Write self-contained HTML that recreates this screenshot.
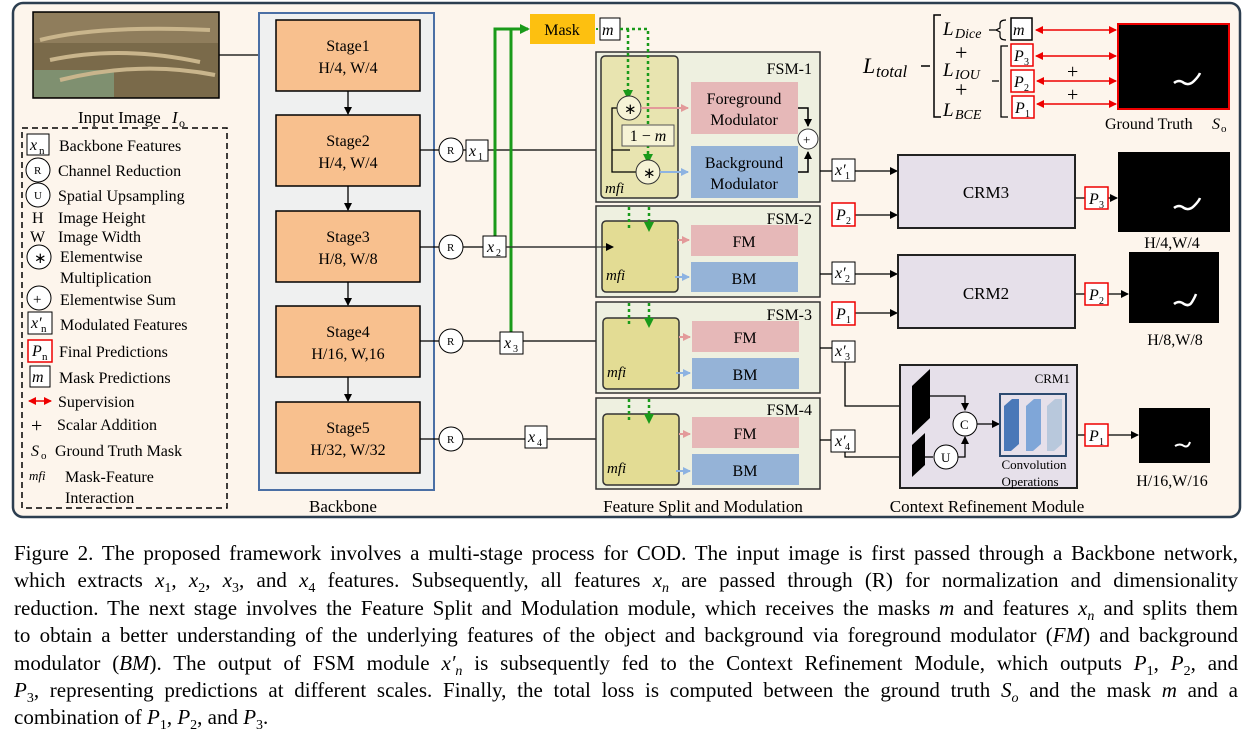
<!DOCTYPE html>
<html><head><meta charset="utf-8"><style>
html,body{margin:0;padding:0;background:#fff;width:1248px;height:741px;overflow:hidden}
svg{position:absolute;left:0;top:0}
.cap{position:absolute;left:14px;top:540px;width:1224px;font-family:"Liberation Serif",serif;font-size:21px;line-height:27.4px;color:#000}
.cap div{text-align:justify;text-align-last:justify;white-space:normal;height:27.4px;overflow:visible}
.cap div.l{text-align-last:left}
sub{font-size:14px;line-height:0}
text{font-family:"Liberation Serif",serif}
.i{font-style:italic}
</style></head><body>
<svg width="1248" height="530" viewBox="0 0 1248 530">
<defs>
<marker id="a" markerWidth="8" markerHeight="8" refX="7" refY="4" orient="auto" markerUnits="userSpaceOnUse"><path d="M0,0 L8,4 L0,8 z" fill="#000"/></marker>
<marker id="g" markerWidth="10" markerHeight="10" refX="8" refY="5" orient="auto" markerUnits="userSpaceOnUse"><path d="M0,0 L10,5 L0,10 z" fill="#1a9a1a"/></marker>
<marker id="r" markerWidth="8" markerHeight="8" refX="7" refY="4" orient="auto-start-reverse" markerUnits="userSpaceOnUse"><path d="M0,0 L8,4 L0,8 z" fill="#e00"/></marker>
<marker id="pk" markerWidth="8" markerHeight="8" refX="7" refY="4" orient="auto" markerUnits="userSpaceOnUse"><path d="M0,0 L8,4 L0,8 z" fill="#e39a9a"/></marker>
<marker id="bl" markerWidth="8" markerHeight="8" refX="7" refY="4" orient="auto" markerUnits="userSpaceOnUse"><path d="M0,0 L8,4 L0,8 z" fill="#8db3e2"/></marker>
</defs>
<rect x="13" y="3" width="1227" height="514" rx="10" fill="#fdf5ec" stroke="#2c3e50" stroke-width="2.5"/>
<rect x="33" y="12" width="186" height="86" fill="#7a6a4a" stroke="#000" stroke-width="1.5"/>
<rect x="34" y="13" width="184" height="30" fill="#8f7d5c"/>
<rect x="34" y="70" width="80" height="27" fill="#7f9070"/>
<path d="M40,40 Q100,25 210,30 M50,60 Q120,45 200,62 M60,80 Q140,60 215,75" stroke="#c9b58c" stroke-width="4" fill="none"/>
<line x1="219" y1="55" x2="276" y2="55" stroke="#000" stroke-width="1.2" marker-end="url(#a)"/>
<text x="78" y="123" font-size="17">Input Image</text><text x="172" y="123" font-size="17" class="i">I</text><text x="179" y="127" font-size="12">o</text>
<rect x="22" y="128" width="205" height="380" fill="none" stroke="#000" stroke-width="1.5" stroke-dasharray="6,4"/>
<g font-size="16">
<rect x="27" y="134" width="22" height="21" fill="#fff" stroke="#000"/><text x="30" y="150" class="i">x</text><text x="39" y="154" font-size="11">n</text><text x="59" y="151">Backbone Features</text>
<circle cx="38" cy="170" r="12" fill="#fff" stroke="#000"/><text x="34" y="174" font-size="11">R</text><text x="58" y="176">Channel Reduction</text>
<circle cx="38" cy="195" r="12" fill="#fff" stroke="#000"/><text x="34" y="199" font-size="11">U</text><text x="58" y="201">Spatial Upsampling</text>
<text x="32" y="223">H</text><text x="58" y="223">Image Height</text>
<text x="30" y="242">W</text><text x="58" y="242">Image Width</text>
<circle cx="39" cy="257" r="12" fill="#fff" stroke="#000"/><text x="34" y="263" font-size="15">∗</text><text x="60" y="262">Elementwise</text><text x="60" y="283">Multiplication</text>
<circle cx="39" cy="298" r="12" fill="#fff" stroke="#000"/><text x="33" y="304" font-size="15">+</text><text x="60" y="305">Elementwise Sum</text>
<rect x="28" y="312" width="24" height="22" fill="#fff" stroke="#000"/><text x="31" y="328" class="i">x′</text><text x="41" y="332" font-size="11">n</text><text x="60" y="330">Modulated Features</text>
<rect x="28" y="340" width="24" height="22" fill="#fff" stroke="#e00" stroke-width="1.5"/><text x="32" y="356" class="i">P</text><text x="42" y="360" font-size="11">n</text><text x="59" y="357">Final Predictions</text>
<rect x="30" y="366" width="20" height="21" fill="#fff" stroke="#000"/><text x="32" y="382" class="i">m</text><text x="59" y="383">Mask Predictions</text>
<line x1="29" y1="401" x2="51" y2="401" stroke="#e00" stroke-width="1.5" marker-start="url(#r)" marker-end="url(#r)"/><text x="58" y="407">Supervision</text>
<text x="31" y="432" font-size="20">+</text><text x="57" y="430">Scalar Addition</text>
<text x="31" y="456" class="i">S</text><text x="41" y="459" font-size="11">o</text><text x="55" y="456">Ground Truth Mask</text>
<text x="29" y="480" class="i" font-size="13">mfi</text><text x="65" y="482">Mask-Feature</text><text x="65" y="503">Interaction</text>
</g>
<rect x="259" y="13" width="175" height="477" fill="#eff0f0" stroke="#4a6fa5" stroke-width="2"/>
<g font-size="16" text-anchor="middle">
<rect x="276" y="20" width="144" height="71" fill="#f8c08e" stroke="#000" stroke-width="1.5"/><text x="348" y="51">Stage1</text><text x="348" y="73">H/4, W/4</text>
<rect x="276" y="115" width="144" height="71" fill="#f8c08e" stroke="#000" stroke-width="1.5"/><text x="348" y="146">Stage2</text><text x="348" y="168">H/4, W/4</text>
<rect x="276" y="211" width="144" height="71" fill="#f8c08e" stroke="#000" stroke-width="1.5"/><text x="348" y="242">Stage3</text><text x="348" y="264">H/8, W/8</text>
<rect x="276" y="306" width="144" height="71" fill="#f8c08e" stroke="#000" stroke-width="1.5"/><text x="348" y="337">Stage4</text><text x="348" y="359">H/16, W,16</text>
<rect x="276" y="402" width="144" height="71" fill="#f8c08e" stroke="#000" stroke-width="1.5"/><text x="348" y="433">Stage5</text><text x="348" y="455">H/32, W/32</text>
<text x="343" y="512" font-size="17">Backbone</text>
<text x="703" y="512" font-size="17">Feature Split and Modulation</text>
<text x="987" y="512" font-size="17">Context Refinement Module</text>
</g>
<g stroke="#000" stroke-width="1.3">
<line x1="348" y1="91" x2="348" y2="114" marker-end="url(#a)"/>
<line x1="348" y1="186" x2="348" y2="210" marker-end="url(#a)"/>
<line x1="348" y1="282" x2="348" y2="305" marker-end="url(#a)"/>
<line x1="348" y1="377" x2="348" y2="401" marker-end="url(#a)"/>
<line x1="420" y1="150" x2="630" y2="150"/>
<line x1="420" y1="247" x2="613" y2="247" marker-end="url(#a)"/>
<line x1="420" y1="341" x2="596" y2="341"/>
<line x1="420" y1="439" x2="596" y2="439"/>
</g>
<g font-size="11">
<circle cx="451" cy="150" r="12" fill="#fff" stroke="#000"/><text x="447" y="154">R</text>
<circle cx="451" cy="247" r="12" fill="#fff" stroke="#000"/><text x="447" y="251">R</text>
<circle cx="451" cy="341" r="12" fill="#fff" stroke="#000"/><text x="447" y="345">R</text>
<circle cx="451" cy="439" r="12" fill="#fff" stroke="#000"/><text x="447" y="443">R</text>
</g>
<path d="M495,236 V29 H528" stroke="#1a9a1a" stroke-width="3" fill="none" marker-end="url(#g)"/>
<path d="M511,332 V29" stroke="#1a9a1a" stroke-width="3" fill="none"/>
<g font-size="16" class="i">
<rect x="466" y="140" width="22" height="21" fill="#fff" stroke="#000"/><text x="469" y="156">x</text><text x="478" y="160" font-size="10" font-style="normal">1</text>
<rect x="483" y="236" width="23" height="21" fill="#fff" stroke="#000"/><text x="487" y="252">x</text><text x="496" y="256" font-size="10" font-style="normal">2</text>
<rect x="500" y="332" width="23" height="22" fill="#fff" stroke="#000"/><text x="504" y="348">x</text><text x="513" y="352" font-size="10" font-style="normal">3</text>
<rect x="525" y="426" width="22" height="22" fill="#fff" stroke="#000"/><text x="528" y="442">x</text><text x="537" y="446" font-size="10" font-style="normal">4</text>
</g>
<rect x="530" y="14" width="65" height="30" fill="#fdc010"/>
<text x="562" y="35" font-size="16" text-anchor="middle" font-family="Liberation Sans">Mask</text>
<line x1="596" y1="29" x2="600" y2="29" stroke="#1a9a1a" stroke-width="2" stroke-dasharray="2,2"/>
<rect x="600" y="18" width="20" height="22" fill="#fff" stroke="#000"/><text x="602" y="35" font-size="16" class="i">m</text>
<rect x="596" y="52" width="224" height="150" fill="#eef0e0" stroke="#333" stroke-width="1.5"/>
<rect x="601" y="56" width="77" height="142" rx="4" fill="#e8e4b0" stroke="#333" stroke-width="1.5"/>
<text x="812" y="74" font-size="16" text-anchor="end">FSM-1</text>
<path d="M630,150 H612 V108 H617 M612,150 V172 H636" stroke="#000" stroke-width="1.3" fill="none"/>
<path d="M620,29 H648 V162" stroke="#1a9a1a" stroke-width="2.5" stroke-dasharray="3,3" fill="none" marker-end="url(#g)"/>
<path d="M628,29 V98" stroke="#1a9a1a" stroke-width="2.5" stroke-dasharray="3,3" fill="none" marker-end="url(#g)"/>
<rect x="622" y="125" width="52" height="21" fill="#f6f3d6" stroke="#555"/><text x="648" y="141" font-size="16" text-anchor="middle">1 − <tspan class="i">m</tspan></text>
<circle cx="629" cy="108" r="12" fill="#f6f3d6" stroke="#333"/><text x="624" y="114" font-size="15">∗</text>
<circle cx="648" cy="172" r="12" fill="#f6f3d6" stroke="#333"/><text x="643" y="178" font-size="15">∗</text>
<line x1="641" y1="108" x2="688" y2="108" stroke="#e39a9a" stroke-width="2" marker-end="url(#pk)"/>
<line x1="660" y1="172" x2="688" y2="172" stroke="#8db3e2" stroke-width="2" marker-end="url(#bl)"/>
<text x="605" y="193" font-size="15" class="i">mfi</text>
<rect x="691" y="82" width="107" height="52" fill="#e6b8b8"/><text x="744" y="104" font-size="16" text-anchor="middle">Foreground</text><text x="744" y="125" font-size="16" text-anchor="middle">Modulator</text>
<rect x="691" y="146" width="107" height="52" fill="#95b3d7"/><text x="744" y="168" font-size="16" text-anchor="middle">Background</text><text x="744" y="189" font-size="16" text-anchor="middle">Modulator</text>
<path d="M798,108 H808 V126" stroke="#000" stroke-width="1.5" fill="none" marker-end="url(#a)"/>
<path d="M798,172 H808 V152" stroke="#000" stroke-width="1.5" fill="none" marker-end="url(#a)"/>
<circle cx="808" cy="139" r="10" fill="#fff" stroke="#333"/><text x="803" y="144" font-size="13">+</text>
<g>
<rect x="596" y="206" width="224" height="91" fill="#eef0e0" stroke="#333" stroke-width="1.5"/>
<rect x="602" y="221" width="76" height="71" rx="4" fill="#e3dc94" stroke="#333" stroke-width="1.5"/>
<text x="812" y="224" font-size="16" text-anchor="end">FSM-2</text>
<rect x="691" y="225" width="107" height="31" fill="#e6b8b8"/><text x="744" y="247" font-size="16" text-anchor="middle">FM</text>
<rect x="691" y="262" width="107" height="30" fill="#95b3d7"/><text x="744" y="284" font-size="16" text-anchor="middle">BM</text>
<text x="606" y="280" font-size="15" class="i">mfi</text>
<path d="M629,207 V230 M649,207 V230" stroke="#1a9a1a" stroke-width="2.5" stroke-dasharray="3,3" marker-end="url(#g)"/>
<line x1="678" y1="240" x2="689" y2="240" stroke="#e39a9a" stroke-width="2" marker-end="url(#pk)"/>
<line x1="675" y1="277" x2="689" y2="277" stroke="#8db3e2" stroke-width="2" marker-end="url(#bl)"/>
<line x1="506" y1="247" x2="613" y2="247" stroke="#333" stroke-width="1.3" marker-end="url(#a)"/>
<rect x="596" y="302" width="224" height="91" fill="#eef0e0" stroke="#333" stroke-width="1.5"/>
<rect x="603" y="318" width="76" height="71" rx="4" fill="#e3dc94" stroke="#333" stroke-width="1.5"/>
<text x="812" y="320" font-size="16" text-anchor="end">FSM-3</text>
<rect x="692" y="321" width="107" height="31" fill="#e6b8b8"/><text x="745" y="343" font-size="16" text-anchor="middle">FM</text>
<rect x="692" y="358" width="107" height="31" fill="#95b3d7"/><text x="745" y="380" font-size="16" text-anchor="middle">BM</text>
<text x="607" y="377" font-size="15" class="i">mfi</text>
<path d="M629,303 V326 M649,303 V326" stroke="#1a9a1a" stroke-width="2.5" stroke-dasharray="3,3" marker-end="url(#g)"/>
<line x1="679" y1="337" x2="690" y2="337" stroke="#e39a9a" stroke-width="2" marker-end="url(#pk)"/>
<line x1="676" y1="373" x2="690" y2="373" stroke="#8db3e2" stroke-width="2" marker-end="url(#bl)"/>
<rect x="596" y="398" width="224" height="91" fill="#eef0e0" stroke="#333" stroke-width="1.5"/>
<rect x="603" y="414" width="76" height="71" rx="4" fill="#e3dc94" stroke="#333" stroke-width="1.5"/>
<text x="812" y="415" font-size="16" text-anchor="end">FSM-4</text>
<rect x="692" y="417" width="107" height="31" fill="#e6b8b8"/><text x="745" y="439" font-size="16" text-anchor="middle">FM</text>
<rect x="692" y="454" width="107" height="31" fill="#95b3d7"/><text x="745" y="476" font-size="16" text-anchor="middle">BM</text>
<text x="607" y="473" font-size="15" class="i">mfi</text>
<path d="M629,399 V422 M649,399 V422" stroke="#1a9a1a" stroke-width="2.5" stroke-dasharray="3,3" marker-end="url(#g)"/>
<line x1="679" y1="434" x2="690" y2="434" stroke="#e39a9a" stroke-width="2" marker-end="url(#pk)"/>
<line x1="676" y1="471" x2="690" y2="471" stroke="#8db3e2" stroke-width="2" marker-end="url(#bl)"/>
</g>
<g stroke="#000" stroke-width="1.3" fill="none">
<line x1="820" y1="171" x2="832" y2="171"/><line x1="855" y1="171" x2="897" y2="171" marker-end="url(#a)"/>
<line x1="855" y1="215" x2="897" y2="215" marker-end="url(#a)"/>
<line x1="820" y1="274" x2="832" y2="274"/><line x1="855" y1="274" x2="897" y2="274" marker-end="url(#a)"/>
<line x1="855" y1="313" x2="897" y2="313" marker-end="url(#a)"/>
<line x1="820" y1="348" x2="832" y2="348"/>
<path d="M845,362 V406 H910" marker-end="url(#a)"/>
<line x1="820" y1="440" x2="831" y2="440"/>
<path d="M845,452 V457 H911" marker-end="url(#a)"/>
<line x1="1075" y1="198" x2="1085" y2="198"/><line x1="1108" y1="198" x2="1117" y2="198" marker-end="url(#a)"/>
<line x1="1075" y1="294" x2="1085" y2="294"/><line x1="1108" y1="294" x2="1128" y2="294" marker-end="url(#a)"/>
<line x1="1077" y1="435" x2="1085" y2="435"/><line x1="1108" y1="435" x2="1138" y2="435" marker-end="url(#a)"/>
</g>
<g font-size="16" class="i">
<rect x="832" y="159" width="23" height="22" fill="#fff" stroke="#000"/><text x="835" y="175">x′</text><text x="845" y="179" font-size="10" font-style="normal">1</text>
<rect x="832" y="203" width="23" height="23" fill="#fff" stroke="#e00" stroke-width="1.5"/><text x="836" y="220">P</text><text x="846" y="224" font-size="10" font-style="normal">2</text>
<rect x="832" y="262" width="23" height="22" fill="#fff" stroke="#000"/><text x="835" y="278">x′</text><text x="845" y="282" font-size="10" font-style="normal">2</text>
<rect x="832" y="302" width="23" height="23" fill="#fff" stroke="#e00" stroke-width="1.5"/><text x="836" y="319">P</text><text x="846" y="323" font-size="10" font-style="normal">1</text>
<rect x="832" y="341" width="23" height="21" fill="#fff" stroke="#000"/><text x="835" y="356">x′</text><text x="845" y="360" font-size="10" font-style="normal">3</text>
<rect x="831" y="430" width="24" height="22" fill="#fff" stroke="#000"/><text x="835" y="446">x′</text><text x="845" y="450" font-size="10" font-style="normal">4</text>
<rect x="1085" y="187" width="23" height="22" fill="#fff" stroke="#e00" stroke-width="1.5"/><text x="1089" y="204">P</text><text x="1099" y="208" font-size="10" font-style="normal">3</text>
<rect x="1085" y="283" width="23" height="22" fill="#fff" stroke="#e00" stroke-width="1.5"/><text x="1089" y="300">P</text><text x="1099" y="304" font-size="10" font-style="normal">2</text>
<rect x="1085" y="424" width="23" height="22" fill="#fff" stroke="#e00" stroke-width="1.5"/><text x="1089" y="441">P</text><text x="1099" y="445" font-size="10" font-style="normal">1</text>
</g>
<rect x="898" y="155" width="177" height="73" fill="#e6e0ea" stroke="#222" stroke-width="2"/><text x="986" y="198" font-size="17" text-anchor="middle">CRM3</text>
<rect x="898" y="255" width="177" height="73" fill="#e6e0ea" stroke="#222" stroke-width="2"/><text x="986" y="299" font-size="17" text-anchor="middle">CRM2</text>
<rect x="900" y="365" width="177" height="123" fill="#e6e0ea" stroke="#222" stroke-width="2"/><text x="1070" y="383" font-size="13" text-anchor="end">CRM1</text>
<polygon points="912,386 930,369 930,418 912,435" fill="#000"/>
<polygon points="912,445 925,433 925,465 912,477" fill="#000"/>
<path d="M930,396 H965 V410" stroke="#000" stroke-width="1.3" fill="none" marker-end="url(#a)"/>
<line x1="925" y1="457" x2="933" y2="457" stroke="#000" stroke-width="1.3"/>
<circle cx="965" cy="424" r="12" fill="#fff" stroke="#000"/><text x="960" y="429" font-size="13">C</text>
<circle cx="946" cy="457" r="12" fill="#fff" stroke="#000"/><text x="941" y="462" font-size="13">U</text>
<path d="M958,457 H965 V437" stroke="#000" stroke-width="1.3" fill="none" marker-end="url(#a)"/>
<line x1="977" y1="424" x2="999" y2="424" stroke="#000" stroke-width="1.3" marker-end="url(#a)"/>
<rect x="1000" y="394" width="66" height="62" fill="#e6e0ea" stroke="#2c4a70" stroke-width="2"/>
<polygon points="1004,406 1012,399 1019,399 1019,444 1011,451 1004,451" fill="#4a78b8"/>
<polygon points="1026,406 1034,399 1041,399 1041,444 1033,451 1026,451" fill="#7fa6d8"/>
<polygon points="1047,406 1055,399 1062,399 1062,444 1054,451 1047,451" fill="#b8c8dc"/>
<text x="1034" y="469" font-size="13" text-anchor="middle">Convolution</text><text x="1030" y="486" font-size="13" text-anchor="middle">Operations</text>
<rect x="1118" y="152" width="112" height="80" fill="#000"/><path d="M1174,208 q5,-4 10,0 q5,3 10,-2 q5,-5 6,-8" stroke="#fff" stroke-width="2.5" fill="none"/>
<text x="1172" y="248" font-size="16" font-family="Liberation Sans" text-anchor="middle">H/4,W/4</text>
<rect x="1129" y="252" width="90" height="71" fill="#000"/><path d="M1174,304 q5,-4 10,0 q5,3 8,-2 q3,-5 4,-8" stroke="#fff" stroke-width="2.5" fill="none"/>
<text x="1175" y="345" font-size="16" font-family="Liberation Sans" text-anchor="middle">H/8,W/8</text>
<rect x="1139" y="408" width="71" height="55" fill="#000"/><path d="M1175,446 q5,-3 9,0 q4,2 6,-4" stroke="#fff" stroke-width="2" fill="none"/>
<text x="1172" y="486" font-size="16" font-family="Liberation Sans" text-anchor="middle">H/16,W/16</text>
<text x="863" y="73" font-size="22" class="i">L</text><text x="876" y="77" font-size="17" class="i">total</text>
<path d="M921,66 H930 M941,15 H934 V117 H941" stroke="#000" stroke-width="1.5" fill="none"/>
<g font-size="19" class="i"><text x="943" y="35">L</text><text x="955" y="38" font-size="14">Dice</text>
<text x="943" y="76">L</text><text x="955" y="79" font-size="14">IOU</text>
<text x="943" y="116">L</text><text x="955" y="119" font-size="14">BCE</text></g>
<text x="955" y="60" font-size="22">+</text><text x="955" y="97" font-size="22">+</text>
<path d="M989,30 H996 M1006,20 Q1000,20 1000,24 V28 L996,30 L1000,32 V36 Q1000,40 1006,40" stroke="#000" stroke-width="1.2" fill="none"/>
<path d="M992,81 H999 M1008,46 H1001 V117 H1008" stroke="#000" stroke-width="1.3" fill="none"/>
<rect x="1011" y="18" width="21" height="22" fill="#fff" stroke="#000" stroke-width="1.5"/><text x="1013" y="35" font-size="16" class="i">m</text>
<g font-size="16" class="i">
<rect x="1011" y="44" width="22" height="22" fill="#fff" stroke="#e00" stroke-width="1.5"/><text x="1014" y="61">P</text><text x="1024" y="65" font-size="10" font-style="normal">3</text>
<rect x="1011" y="70" width="23" height="22" fill="#fff" stroke="#e00" stroke-width="1.5"/><text x="1014" y="87">P</text><text x="1024" y="91" font-size="10" font-style="normal">2</text>
<rect x="1012" y="96" width="22" height="22" fill="#fff" stroke="#e00" stroke-width="1.5"/><text x="1015" y="113">P</text><text x="1025" y="117" font-size="10" font-style="normal">1</text>
</g>
<g stroke="#e00" stroke-width="1.5">
<line x1="1036" y1="30" x2="1116" y2="30" marker-start="url(#r)" marker-end="url(#r)"/>
<line x1="1036" y1="56" x2="1116" y2="56" marker-start="url(#r)" marker-end="url(#r)"/>
<line x1="1037" y1="81" x2="1116" y2="81" marker-start="url(#r)" marker-end="url(#r)"/>
<line x1="1037" y1="104" x2="1116" y2="104" marker-start="url(#r)" marker-end="url(#r)"/>
</g>
<text x="1067" y="78" font-size="20">+</text><text x="1067" y="101" font-size="20">+</text>
<rect x="1118" y="24" width="111" height="85" fill="#000" stroke="#e00" stroke-width="2"/>
<path d="M1174,83 q5,-4 10,0 q5,3 10,-2 q5,-5 6,-8" stroke="#fff" stroke-width="2.5" fill="none"/>
<text x="1105" y="129" font-size="16">Ground Truth</text><text x="1212" y="129" font-size="16" class="i">S</text><text x="1221" y="132" font-size="11">o</text>
</svg>
<div class="cap">
<div>Figure 2. The proposed framework involves a multi-stage process for COD. The input image is first passed through a Backbone network,</div>
<div>which extracts <i>x</i><sub>1</sub>, <i>x</i><sub>2</sub>, <i>x</i><sub>3</sub>, and <i>x</i><sub>4</sub> features. Subsequently, all features <i>x<sub>n</sub></i> are passed through (R) for normalization and dimensionality</div>
<div>reduction. The next stage involves the Feature Split and Modulation module, which receives the masks <i>m</i> and features <i>x<sub>n</sub></i> and splits them</div>
<div>to obtain a better understanding of the underlying features of the object and background via foreground modulator (<i>FM</i>) and background</div>
<div>modulator (<i>BM</i>). The output of FSM module <i>x′<sub>n</sub></i> is subsequently fed to the Context Refinement Module, which outputs <i>P</i><sub>1</sub>, <i>P</i><sub>2</sub>, and</div>
<div><i>P</i><sub>3</sub>, representing predictions at different scales. Finally, the total loss is computed between the ground truth <i>S<sub>o</sub></i> and the mask <i>m</i> and a</div>
<div class="l">combination of <i>P</i><sub>1</sub>, <i>P</i><sub>2</sub>, and <i>P</i><sub>3</sub>.</div>
</div>
</body></html>
